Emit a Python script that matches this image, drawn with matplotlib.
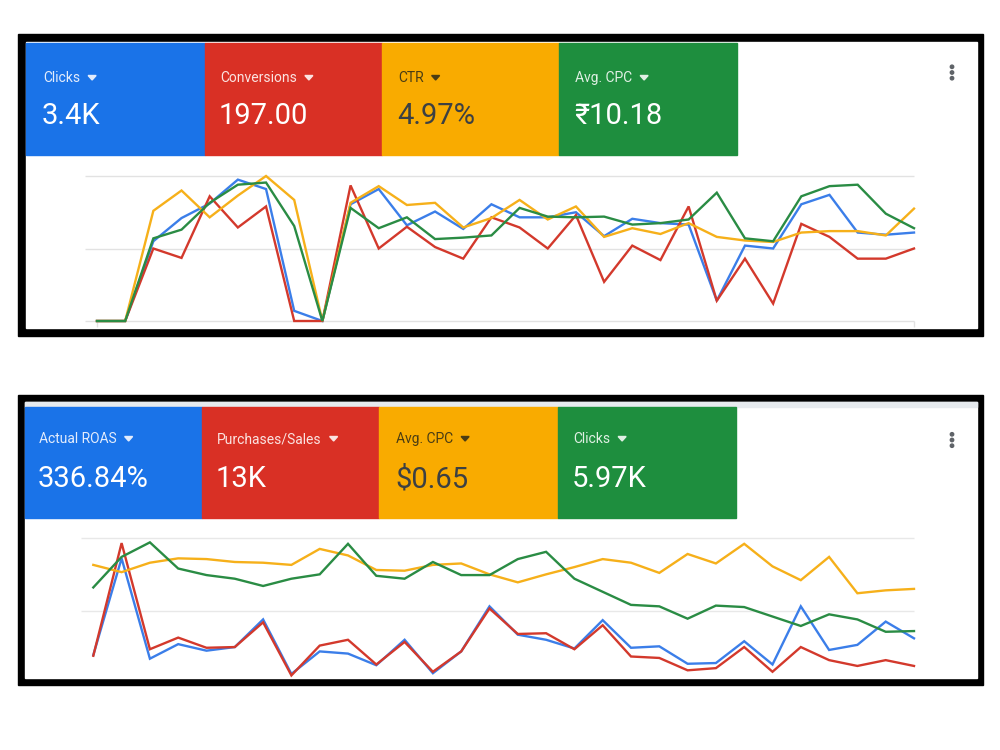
import matplotlib
matplotlib.use("Agg")
import matplotlib.pyplot as plt
from matplotlib.patches import Rectangle, Polygon, Circle

plt.rcParams['font.family'] = ['Roboto', 'DejaVu Sans']

# ---- data (values in gridline units: 0, 1, 2) ----
days = list(range(30))

# top card: Clicks / Conversions / CTR / Avg. CPC
top_labels = ['Clicks', 'Conversions', 'CTR', 'Avg. CPC']
top_values = ['3.4K', '197.00', '4.97%', '₹10.18']
top_clicks = [0, 0, 1.10, 1.42, 1.62, 1.95, 1.82, 0.14, 0, 1.61, 1.82, 1.32, 1.51, 1.27, 1.61,
              1.43, 1.43, 1.50, 1.17, 1.41, 1.35, 1.33, 0.28, 1.04, 1.00, 1.61, 1.74, 1.22, 1.19, 1.22]
top_conv = [0, 0, 1.00, 0.87, 1.72, 1.29, 1.58, 0, 0, 1.87, 1.00, 1.30, 1.02, 0.86, 1.43,
            1.29, 1.00, 1.46, 0.54, 1.04, 0.84, 1.58, 0.28, 0.86, 0.24, 1.34, 1.16, 0.86, 0.86, 1.00]
top_ctr = [0, 0, 1.52, 1.80, 1.43, 1.73, 2.00, 1.67, 0, 1.63, 1.86, 1.60, 1.63, 1.29, 1.42,
           1.67, 1.40, 1.58, 1.16, 1.28, 1.20, 1.35, 1.16, 1.11, 1.09, 1.22, 1.24, 1.24, 1.18, 1.55]
top_cpc = [0, 0, 1.14, 1.26, 1.63, 1.88, 1.91, 1.31, 0, 1.56, 1.28, 1.43, 1.13, 1.15, 1.18,
           1.56, 1.44, 1.43, 1.44, 1.33, 1.35, 1.40, 1.77, 1.14, 1.10, 1.72, 1.86, 1.88, 1.48, 1.28]

# bottom card: Actual ROAS / Purchases/Sales / Avg. CPC / Clicks
bot_labels = ['Actual ROAS', 'Purchases/Sales', 'Avg. CPC', 'Clicks']
bot_values = ['336.84%', '13K', '$0.65', '5.97K']
bot_roas = [0.39, 1.72, 0.34, 0.54, 0.45, 0.50, 0.88, 0.13, 0.44, 0.41, 0.25, 0.60, 0.14, 0.44, 1.06,
            0.67, 0.60, 0.48, 0.87, 0.49, 0.51, 0.27, 0.28, 0.58, 0.26, 1.06, 0.46, 0.53, 0.85, 0.62]
bot_purch = [0.38, 1.93, 0.47, 0.63, 0.49, 0.50, 0.84, 0.11, 0.52, 0.60, 0.26, 0.57, 0.16, 0.44, 1.03,
             0.68, 0.69, 0.47, 0.80, 0.37, 0.35, 0.18, 0.21, 0.50, 0.16, 0.50, 0.32, 0.24, 0.32, 0.24]
bot_cpc = [1.63, 1.53, 1.66, 1.72, 1.71, 1.67, 1.66, 1.63, 1.85, 1.76, 1.56, 1.55, 1.63, 1.65, 1.50,
           1.39, 1.50, 1.60, 1.71, 1.66, 1.52, 1.78, 1.65, 1.92, 1.61, 1.42, 1.74, 1.24, 1.28, 1.30]
bot_clicks = [1.32, 1.74, 1.94, 1.58, 1.49, 1.44, 1.34, 1.44, 1.50, 1.92, 1.48, 1.44, 1.67, 1.49, 1.49,
              1.71, 1.81, 1.44, 1.26, 1.08, 1.06, 0.89, 1.07, 1.05, 0.92, 0.79, 0.95, 0.88, 0.71, 0.72]

tile_colors = ['#1a73e8', '#d93025', '#f9ab00', '#1e8e3e']
line_colors = ['#3b7ee9', '#d3392c', '#f6b01a', '#2a8c44']
text_colors = ['white', 'white', '#3c4043', 'white']
label_colors = ['#e3ecfc', '#fbe3e1', '#4a3d14', '#e0f0e4']

W, H = 1000, 750
fig = plt.figure(figsize=(10, 7.5), dpi=100)
fig.patch.set_facecolor('white')

bg = fig.add_axes([0, 0, 1, 1])
bg.set_xlim(0, W)
bg.set_ylim(H, 0)
bg.axis('off')

renderer = fig.canvas.get_renderer()


def px_axes(left, top, right, bottom):
    return fig.add_axes([left / W, (H - bottom) / H, (right - left) / W, (bottom - top) / H])


def card(outer, inner, tiles_y, tile_x, label_x, labels, values, lab_base, val_base, kebab_y, strip=None):
    x0, y0, x1, y1 = outer
    bg.add_patch(Rectangle((x0, y0), x1 - x0, y1 - y0, color='black', zorder=1))
    ix0, iy0, ix1, iy1 = inner
    bg.add_patch(Rectangle((ix0, iy0), ix1 - ix0, iy1 - iy0, color='white', zorder=2))
    if strip:
        bg.add_patch(Rectangle((ix0, strip[0]), ix1 - ix0, strip[1] - strip[0], color='#e6eaee', zorder=3))
    for i in range(4):
        bg.add_patch(Rectangle((tile_x[i], tiles_y[0]), tile_x[i + 1] - tile_x[i], tiles_y[1] - tiles_y[0],
                               color=tile_colors[i], zorder=3))
        t = bg.text(label_x[i], lab_base, labels[i], fontsize=10, color=label_colors[i],
                    va='baseline', ha='left', zorder=4)
        bb = t.get_window_extent(renderer)
        tx = bb.x1 + 8
        ty = lab_base - 4.5
        bg.add_patch(Polygon([[tx, ty - 2], [tx + 8, ty - 2], [tx + 4, ty + 2.5]], closed=True,
                             color=label_colors[i], zorder=4))
        bg.text(label_x[i] - 1, val_base, values[i], fontsize=21, color=text_colors[i],
                va='baseline', ha='left', zorder=4)
    for dy in (-5.7, 0, 5.7):
        bg.add_patch(Circle((952, kebab_y + dy), 1.7, color='#5f6368', zorder=4))


# top card frame
card((18, 34, 983, 336), (26, 42, 977, 328), (43, 155), [26, 205, 382, 559, 737],
     [43, 220, 398, 575], top_labels, top_values, 82, 124, 72.5)
# bottom card frame
card((18, 395, 983, 685), (25, 402, 977, 678), (407, 518), [25, 202, 379, 558, 736],
     [39, 217, 396, 573], bot_labels, bot_values, 443, 487, 440, strip=(402, 407))

# top chart: index 0 at x=97, index 29 at x=914; value 0 at y=321, 1 unit = 72.5 px
ax1 = px_axes(85, 168, 921, 328)
step1 = (914 - 97) / 29
ax1.set_xlim(-(97 - 85) / step1, 29 + 7 / step1)
ax1.set_ylim(-(328 - 321) / 72.5, (321 - 168) / 72.5)
ax1.hlines([0, 1, 2], -(97 - 85) / step1, 29, color='#e2e2e2', lw=1.0, zorder=1)
ax1.vlines([0, 29], -(327 - 321) / 72.5, 0, color='#e2e2e2', lw=1.0, zorder=1)
for s, c in zip([top_clicks, top_conv, top_ctr, top_cpc], line_colors):
    ax1.plot(days, s, color=c, lw=1.7, solid_joinstyle='miter', zorder=2)
ax1.axis('off')

# bottom chart: index 0 at x=93.3, index 29 at x=914; value 0 at y=683.4, 1 unit = 72.7 px
ax2 = px_axes(81, 528, 921, 678)
step2 = (914 - 93.3) / 29
ax2.set_xlim(-(93.3 - 81) / step2, 29 + 7 / step2)
ax2.set_ylim((683.4 - 678) / 72.7, (683.4 - 528) / 72.7)
ax2.hlines([1, 2], -(93.3 - 81) / step2, 29, color='#e8e8e8', lw=1.0, zorder=1)
for s, c in zip([bot_roas, bot_purch, bot_cpc, bot_clicks], line_colors):
    ax2.plot(days, s, color=c, lw=1.7, solid_joinstyle='miter', zorder=2)
ax2.axis('off')

fig.savefig('out.png', dpi=100, facecolor='white')
